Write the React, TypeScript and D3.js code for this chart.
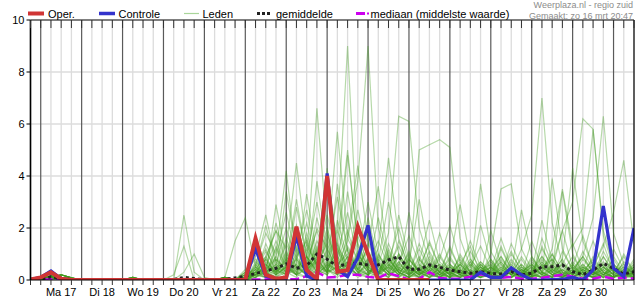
import React from "react";
import * as d3 from "d3";

const START = new Date(2025, 2, 16, 18);
const END = new Date(2025, 2, 31, 12);
const DAY_LABELS = ["Ma 17", "Di 18", "Wo 19", "Do 20", "Vr 21", "Za 22", "Zo 23", "Ma 24", "Di 25", "Wo 26", "Do 27", "Vr 28", "Za 29", "Zo 30"];
const Y_TICKS = [0, 2, 4, 6, 8, 10];
const GRID_Y = [2, 4, 6, 8];

// 6-hourly values starting at zo 16 mrt 18:00
const OPER = [0.02, 0.1, 0.3, 0.05, 0, 0, 0, 0, 0, 0, 0, 0, 0, 0, 0, 0, 0, 0, 0, 0, 0, 0,
  1.6, 0.2, 0.05, 0.1, 2.05, 0.38, 0.05, 4.0, 0.32, 0.38, 2.05, 1.0, 0, 0, 0, 0, 0, 0];
const CONTROLE = [0.02, 0.1, 0.35, 0.05, 0, 0, 0, 0, 0, 0, 0, 0, 0, 0, 0, 0, 0, 0, 0, 0, 0, 0,
  1.2, 0.15, 0.05, 0.05, 1.7, 0.15, 0, 4.1, 0.4, 0.13, 0.85, 2.1,
  0, 0, 0, 0, 0, 0, 0, 0, 0, 0,
  0.3, 0.1, 0.1, 0.47, 0.2, 0, 0, 0.02, 0.03, 0.1, 0, 0.38, 2.85, 0.45, 0.13, 2.0];
const GEMIDDELDE = [0, 0.03, 0.12, 0.06, 0.02, 0.01, 0.01, 0.01, 0.01, 0.01, 0.01, 0.01, 0.01, 0.01,
  0.02, 0.1, 0.06, 0.01, 0.01, 0.03, 0.08,
  0.15, 0.25, 0.35, 0.45, 0.62, 0.45, 0.55, 1.0, 0.8, 0.52, 0.62, 0.64, 0.58, 0.58, 0.77, 0.9, 0.41, 0.41, 0.58,
  0.49, 0.38, 0.32, 0.26, 0.32, 0.26, 0.23, 0.32, 0.2, 0.26, 0.51, 0.51, 0.58, 0.32, 0.2, 0.38, 0.64, 0.45, 0.23, 0.32];
const MEDIAAN = [0, 0.01, 0.03, 0.01, 0, 0, 0, 0, 0, 0, 0, 0, 0, 0, 0, 0, 0, 0, 0, 0, 0, 0,
  0.02, 0.02, 0.08, 0.03, 0.03, 0.15, 0.3, 0.1, 0.12, 0.2,
  0.2, 0.12, 0.08, 0.26, 0.15, 0.02, 0.05, 0.3, 0.08, 0.05,
  0.05, 0.13, 0.22, 0.13, 0.08, 0.12, 0.05, 0.05, 0.08, 0.15,
  0.2, 0.13, 0.05, 0.05, 0.13, 0.05, 0.1, 0.05];

const EARLY_A = [0, 0.05, 0.15, 0.1, 0.02, 0, 0, 0, 0, 0, 0, 0, 0, 0, 0, 0, 0, 0, 0, 0, 0];
const EARLY_B = [0, 0.02, 0.1, 0.2, 0.08, 0, 0, 0, 0, 0, 0, 0, 0, 0, 0, 0, 0, 0, 0, 0, 0];
const EARLY_C = [0, 0, 0.05, 0.05, 0, 0, 0, 0, 0, 0, 0.1, 0, 0, 0, 0, 0, 0, 0, 0, 0.1, 0];
const EARLY_7 = [0, 0, 0.1, 0.05, 0, 0, 0, 0, 0, 0, 0, 0, 0, 0, 0, 2.5, 0.3, 0, 0, 0, 0];
const EARLY_8 = [0, 0, 0.15, 0.1, 0, 0, 0, 0, 0, 0, 0, 0, 0, 0, 0.2, 1.3, 0, 0, 0, 0, 0];
const EARLY_9 = [0, 0, 0.1, 0.1, 0, 0, 0, 0, 0, 0, 0, 0.05, 0, 0, 0, 0.3, 1.0, 0.1, 0, 0, 0];
const EARLY_10 = [0, 0.05, 0.2, 0.1, 0, 0, 0, 0, 0, 0, 0, 0, 0, 0, 0, 0, 0, 0, 0, 0.1, 1.5];

const LEDEN: number[][] = [
  [...EARLY_A, 0, 0.3, 0.8, 0.2, 1.0, 0.5, 0.3, 1.5, 0.8, 2.0, 9.0, 1.2, 0.5, 0.3, 1.0, 0.4, 0.2, 0.8, 0.3, 0.1, 0.5, 0.2, 0, 0.3, 0.8, 0.2, 0.1, 0.4, 0.2, 1.2, 0.5, 0.1, 0.3, 0.6, 0.2, 0.4, 0.1, 0.3, 0.2],
  [...EARLY_B, 0.1, 0.5, 0.2, 1.2, 0.4, 0.8, 2.2, 0.6, 1.4, 0.5, 1.5, 3.8, 9.0, 2.0, 0.6, 0.3, 1.1, 0.2, 0.5, 0.1, 0.2, 0.9, 0.3, 0.1, 0.4, 1.6, 0.5, 0.2, 0.1, 0.6, 0.3, 0.8, 0.2, 0.1, 0.5, 1.4, 0.3, 0.2, 0.6],
  [...EARLY_C, 0, 0.2, 1.4, 0.5, 0.3, 2.1, 0.8, 6.6, 1.8, 0.6, 1.0, 0.4, 2.4, 0.7, 0.3, 1.5, 0.5, 0.2, 1.1, 0.4, 0.1, 0.6, 1.3, 0.2, 0.5, 0.1, 0.3, 0.8, 0.2, 0.1, 0.4, 1.9, 0.5, 0.2, 0.1, 0.7, 0.3, 0.1, 0.4],
  [...EARLY_A, 0.2, 1.1, 0.4, 0.9, 0.3, 1.6, 0.5, 2.0, 1.2, 5.7, 1.6, 0.8, 3.0, 1.0, 0.4, 0.9, 0.2, 0.5, 0.1, 0.3, 0.9, 0.3, 0.1, 0.6, 0.2, 0.4, 1.1, 0.3, 0.1, 0.5, 0.2, 0.6, 1.4, 0.4, 0.2, 0.9, 0.3, 0.5, 0.2],
  [...EARLY_B, 0, 0.6, 1.8, 1.0, 4.2, 0.9, 0.3, 1.2, 0.6, 1.9, 0.7, 0.4, 1.3, 3.6, 0.8, 0.3, 0.6, 0.2, 0.4, 1.0, 0.3, 0.1, 0.2, 0.7, 0.3, 0.1, 0.5, 0.2, 0.8, 0.3, 0.1, 0.4, 0.2, 1.1, 0.4, 0.2, 0.6, 0.3, 0.1],
  [...EARLY_C, 0.3, 0.2, 0.9, 1.9, 1.2, 4.5, 1.3, 0.6, 2.5, 0.9, 4.8, 1.4, 0.5, 1.2, 4.7, 1.6, 0.5, 0.2, 0.8, 0.3, 0.1, 0.4, 1.5, 0.5, 0.2, 0.7, 0.2, 0.1, 0.3, 0.9, 0.4, 0.2, 0.6, 0.2, 0.1, 0.3, 0.8, 0.2, 0.4],
  [...EARLY_7, 0, 0.4, 0.2, 0.6, 2.0, 0.7, 0.3, 1.1, 0.5, 0.9, 2.6, 0.8, 0.3, 0.6, 1.8, 6.3, 6.1, 2.0, 0.7, 0.3, 1.2, 0.4, 0.1, 0.5, 0.2, 0.8, 0.3, 0.1, 0.6, 0.2, 1.0, 0.3, 0.1, 0.4, 0.2, 0.5, 0.1, 0.3, 0.2],
  [...EARLY_8, 0.1, 0.3, 0.1, 0.8, 0.4, 1.5, 0.5, 0.9, 4.3, 1.3, 0.6, 2.2, 0.8, 0.3, 0.5, 1.3, 0.4, 5.0, 5.2, 5.4, 5.1, 1.6, 0.5, 0.2, 0.6, 0.2, 0.1, 0.4, 0.2, 0.7, 0.3, 0.1, 0.2, 0.8, 0.3, 0.1, 0.3, 0.6, 0.2],
  [...EARLY_9, 0, 0.2, 0.5, 0.3, 1.1, 0.4, 0.9, 3.0, 1.0, 0.4, 1.7, 4.4, 1.5, 0.6, 0.2, 0.9, 0.3, 1.4, 0.5, 0.2, 0.7, 2.9, 0.8, 0.3, 0.1, 0.5, 0.2, 0.6, 0.2, 0.1, 0.4, 3.4, 1.0, 0.3, 0.1, 0.5, 0.2, 0.1, 0.3],
  [...EARLY_10, 2.4, 0.5, 1.2, 0.3, 0.8, 0.2, 1.4, 0.5, 0.9, 3.2, 1.1, 0.4, 0.2, 0.7, 0.3, 1.0, 0.4, 0.1, 0.6, 0.3, 1.3, 0.4, 0.2, 3.7, 1.1, 0.4, 0.2, 0.5, 0.1, 0.3, 0.8, 0.2, 0.1, 0.4, 1.5, 0.5, 0.2, 0.1, 0.3],
  [...EARLY_A, 0.2, 0.9, 2.5, 0.7, 0.3, 1.2, 0.4, 0.8, 0.3, 1.5, 5.0, 1.3, 0.5, 0.2, 0.9, 0.3, 0.1, 0.7, 2.3, 0.7, 0.3, 0.1, 0.4, 0.2, 1.0, 3.5, 3.7, 1.2, 0.4, 0.2, 0.5, 0.2, 0.1, 0.3, 0.6, 0.2, 0.1, 0.4, 0.1],
  [...EARLY_B, 0, 0.3, 0.8, 1.9, 0.6, 0.2, 0.9, 0.4, 1.6, 0.5, 0.2, 1.0, 0.4, 0.1, 0.6, 0.2, 0.8, 0.3, 0.1, 0.5, 0.2, 0.6, 0.2, 0.1, 0.4, 0.9, 0.3, 1.2, 2.5, 7.0, 2.2, 0.6, 0.3, 0.9, 0.3, 0.1, 0.5, 0.2, 0.1],
  [...EARLY_C, 0.1, 0.5, 0.2, 1.3, 0.5, 0.2, 1.8, 0.6, 0.3, 1.2, 0.5, 0.2, 0.7, 1.5, 0.5, 0.2, 0.4, 0.1, 0.3, 0.9, 0.3, 0.1, 0.6, 0.2, 0.5, 0.2, 0.8, 0.3, 0.1, 1.6, 0.6, 1.9, 3.0, 6.2, 5.8, 1.7, 0.5, 0.2, 0.6],
  [...EARLY_A, 0, 0.1, 0.4, 0.2, 0.9, 0.3, 0.1, 0.6, 2.0, 0.7, 0.3, 1.1, 0.4, 0.2, 1.4, 0.5, 0.2, 0.6, 0.2, 0.1, 0.4, 0.2, 1.1, 0.4, 0.1, 0.3, 0.6, 0.2, 0.5, 0.2, 3.9, 1.2, 0.4, 0.9, 2.4, 6.3, 1.8, 0.6, 0.2],
  [...EARLY_B, 0, 0.6, 0.2, 0.4, 0.1, 0.8, 0.3, 2.4, 0.8, 0.3, 0.6, 0.2, 1.8, 0.6, 0.2, 0.4, 1.0, 0.3, 0.1, 0.5, 0.2, 0.7, 0.3, 0.1, 0.2, 0.6, 0.2, 0.1, 0.4, 0.9, 0.3, 0.8, 4.3, 1.5, 0.5, 1.3, 2.6, 4.6, 1.4],
  [...EARLY_C, 0.3, 0.1, 0.7, 0.3, 1.4, 0.5, 0.2, 0.9, 0.3, 0.7, 1.9, 0.6, 0.2, 0.9, 0.4, 2.5, 0.8, 0.3, 0.7, 0.2, 0.1, 0.3, 0.8, 0.3, 0.1, 0.2, 0.5, 0.2, 0.9, 0.3, 1.2, 3.5, 1.3, 2.0, 5.8, 1.9, 0.6, 0.2, 0.5],
  [...EARLY_A, 0.1, 0.4, 1.1, 0.4, 0.2, 0.6, 3.3, 1.0, 0.4, 0.8, 0.3, 0.6, 2.0, 0.7, 3.0, 1.0, 0.3, 0.1, 0.4, 1.8, 0.6, 0.2, 0.1, 0.4, 0.2, 0.1, 0.3, 2.7, 0.9, 0.3, 0.1, 0.5, 0.2, 0.6, 0.2, 0.9, 0.3, 0.1, 0.2],
  [...EARLY_B, 0, 0.2, 0.5, 1.5, 0.5, 2.8, 0.9, 0.3, 0.7, 0.2, 1.3, 0.5, 0.2, 0.4, 0.1, 0.6, 1.7, 0.6, 0.2, 0.1, 0.6, 0.3, 0.1, 0.2, 0.7, 0.3, 1.0, 0.4, 0.1, 0.2, 0.6, 0.2, 0.7, 0.3, 0.1, 0.4, 1.2, 0.4, 0.2],
  [...EARLY_C, 0.2, 1.6, 0.6, 0.2, 0.5, 0.2, 0.7, 1.9, 0.7, 0.3, 0.9, 0.3, 0.6, 0.2, 1.2, 0.4, 0.2, 0.9, 0.3, 0.6, 0.2, 0.1, 0.5, 1.3, 0.4, 0.2, 0.1, 0.3, 0.6, 0.2, 0.1, 1.1, 0.4, 0.2, 0.6, 0.2, 0.1, 0.7, 0.3],
  [...EARLY_A, 0, 0.1, 0.3, 0.6, 0.2, 0.9, 1.5, 0.5, 4.0, 1.2, 0.4, 0.2, 0.8, 0.3, 0.1, 0.7, 0.2, 0.5, 1.4, 0.5, 0.2, 0.1, 0.3, 0.7, 0.3, 0.1, 0.4, 0.2, 1.5, 0.5, 0.2, 0.1, 0.6, 0.2, 0.4, 0.1, 0.3, 0.9, 0.3],
  [...EARLY_B, 0.1, 0.3, 0.2, 0.9, 2.6, 0.8, 0.3, 0.1, 1.2, 0.4, 0.7, 2.7, 0.9, 0.3, 0.1, 0.5, 0.2, 0.1, 0.3, 0.8, 2.1, 0.7, 0.2, 0.1, 0.3, 0.9, 0.3, 0.1, 0.2, 0.6, 0.2, 0.4, 0.1, 0.3, 0.8, 0.3, 0.1, 0.2, 0.5],
  [...EARLY_C, 0, 0.7, 0.3, 0.1, 0.6, 1.3, 0.4, 3.8, 1.2, 0.4, 0.2, 0.6, 1.1, 0.4, 0.8, 0.3, 0.1, 0.3, 0.9, 0.3, 0.1, 0.5, 0.2, 0.6, 0.2, 0.1, 0.7, 0.3, 0.1, 0.4, 1.0, 0.3, 0.1, 0.5, 0.2, 0.6, 0.2, 0.1, 0.1],
  [...EARLY_A, 0.2, 0.1, 0.6, 0.2, 0.8, 0.3, 1.2, 0.4, 0.2, 2.3, 0.8, 0.3, 0.1, 1.0, 0.3, 0.1, 0.5, 0.2, 0.6, 0.2, 0.1, 1.0, 0.3, 0.2, 0.8, 0.3, 0.1, 0.2, 0.7, 0.3, 0.1, 0.3, 0.9, 0.3, 0.1, 0.2, 0.5, 0.2, 0.8],
  [...EARLY_B, 0, 0.2, 0.1, 0.4, 0.2, 0.5, 0.2, 0.8, 0.3, 0.5, 3.4, 1.0, 0.4, 0.2, 0.6, 0.2, 0.9, 0.3, 0.1, 0.2, 0.5, 0.2, 0.7, 0.2, 0.1, 0.4, 0.2, 0.6, 0.2, 0.1, 0.3, 0.1, 0.4, 0.2, 0.9, 0.3, 0.1, 0.3, 0.2],
  [...EARLY_C, 0, 0.1, 0.3, 0.1, 0.4, 0.2, 0.5, 0.2, 0.6, 0.2, 0.4, 0.1, 0.3, 0.5, 0.2, 0.1, 0.3, 0.1, 0.2, 0.4, 0.1, 0.2, 0.1, 0.3, 0.1, 0.2, 0.1, 0.4, 0.1, 0.3, 0.1, 0.2, 0.1, 0.3, 0.1, 0.2, 0.4, 0.1, 0.2],
  [...EARLY_A, 0.1, 0.2, 0.1, 0.3, 0.7, 0.2, 0.1, 0.4, 0.2, 0.6, 0.2, 0.8, 0.3, 0.1, 0.2, 0.4, 0.1, 0.2, 0.5, 0.2, 0.3, 0.1, 0.2, 0.5, 0.2, 0.1, 0.3, 0.1, 0.2, 0.5, 0.2, 0.1, 0.3, 0.1, 0.2, 0.5, 0.2, 0.1, 0.3],
  [...EARLY_B, 0, 0.4, 0.2, 0.1, 0.3, 0.1, 0.6, 0.2, 0.4, 0.1, 0.5, 0.2, 0.1, 0.3, 0.7, 0.2, 0.1, 0.4, 0.1, 0.3, 0.1, 0.2, 0.4, 0.1, 0.2, 0.1, 0.4, 0.2, 0.3, 0.1, 0.2, 0.1, 0.5, 0.2, 0.1, 0.3, 0.1, 0.2, 0.1],
  [...EARLY_C, 0.3, 0.8, 0.3, 0.5, 0.2, 0.4, 0.9, 0.3, 0.5, 1.1, 0.4, 0.9, 0.3, 0.6, 0.2, 1.0, 0.4, 0.2, 0.6, 0.3, 0.8, 0.3, 0.1, 0.4, 0.6, 0.2, 0.1, 0.5, 0.3, 0.8, 0.3, 0.6, 0.2, 0.4, 0.7, 0.3, 0.1, 0.5, 0.3],
  [...EARLY_A, 0, 0.2, 0.8, 0.3, 1.6, 0.5, 0.2, 0.7, 0.3, 1.4, 0.5, 0.2, 1.4, 0.5, 0.2, 0.6, 0.3, 1.2, 0.4, 0.2, 0.5, 0.2, 0.6, 0.2, 1.9, 0.6, 0.2, 0.3, 0.1, 1.3, 0.4, 0.2, 0.5, 1.7, 0.5, 0.2, 0.4, 0.2, 0.7],
  [...EARLY_B, 0.1, 0.3, 0.1, 0.2, 0.5, 0.2, 0.4, 1.3, 0.4, 0.2, 0.6, 0.2, 0.4, 2.4, 0.8, 0.3, 0.1, 0.4, 0.2, 0.1, 0.3, 0.6, 0.2, 0.1, 0.2, 0.5, 0.2, 0.9, 0.3, 0.1, 0.2, 0.4, 0.1, 0.2, 0.3, 0.1, 0.9, 0.3, 0.1],
  [...EARLY_A, 0.1, 1.3, 0.4, 2.2, 0.7, 3.1, 0.9, 0.3, 1.8, 0.6, 0.2, 1.0, 0.4, 0.2, 0.7, 2.0, 0.6, 0.2, 0.4, 0.1, 0.3, 0.8, 0.3, 0.1, 0.5, 0.2, 1.4, 0.5, 0.2, 0.1, 0.6, 0.2, 0.4, 0.1, 0.3, 0.2, 0.6, 0.2, 0.1],
  [...EARLY_B, 0, 0.5, 2.1, 0.6, 0.3, 1.0, 2.7, 0.8, 0.3, 0.5, 1.2, 0.4, 0.8, 0.3, 1.1, 0.4, 2.6, 0.8, 0.3, 0.1, 0.4, 0.2, 0.7, 0.2, 0.1, 1.2, 0.4, 0.2, 0.5, 0.2, 0.1, 0.7, 0.2, 0.4, 0.1, 0.2, 0.5, 0.2, 0.3],
  [...EARLY_C, 0.4, 0.2, 0.6, 0.3, 3.4, 1.1, 0.4, 0.7, 0.2, 0.9, 0.4, 1.7, 0.6, 0.2, 0.5, 0.2, 0.8, 0.3, 1.5, 0.5, 0.2, 0.6, 0.2, 2.1, 0.7, 0.2, 0.4, 0.1, 0.3, 0.7, 0.2, 0.1, 0.4, 0.9, 0.3, 0.1, 0.2, 1.0, 0.3],
  [...EARLY_A, 0, 0.2, 0.4, 0.8, 0.3, 0.6, 0.2, 1.1, 0.4, 0.2, 0.7, 0.3, 0.5, 0.2, 0.9, 0.3, 0.1, 0.4, 0.2, 0.6, 0.2, 0.4, 0.1, 0.3, 0.5, 0.2, 0.1, 0.3, 0.6, 0.2, 0.4, 0.1, 0.3, 0.5, 0.2, 0.4, 0.1, 0.3, 0.2],
  [...EARLY_B, 0.2, 0.4, 0.9, 0.2, 0.5, 0.3, 0.8, 0.2, 0.6, 0.4, 0.9, 0.3, 0.2, 0.6, 0.3, 0.7, 0.2, 0.5, 0.3, 0.2, 0.5, 0.3, 0.2, 0.6, 0.3, 0.7, 0.2, 0.4, 0.2, 0.5, 0.8, 0.3, 0.2, 0.5, 0.3, 0.6, 0.2, 0.4, 0.3],
  [...EARLY_C, 0, 0.3, 0.2, 2.9, 0.9, 0.4, 1.6, 0.5, 0.3, 3.7, 1.1, 0.4, 0.2, 0.8, 0.3, 0.1, 0.6, 3.1, 1.0, 0.3, 0.6, 0.2, 0.1, 0.5, 0.2, 1.3, 0.4, 0.1, 0.3, 2.3, 0.7, 0.2, 0.1, 0.4, 0.2, 1.1, 0.4, 0.2, 0.5],
];

const X0 = 30.5, X1 = 634, Y0 = 280, Y1 = 20;

export default function App() {
  const x = d3.scaleTime().domain([START, END]).range([X0, X1]);
  const y = d3.scaleLinear().domain([0, 10]).range([Y0, Y1]);
  const tAt = (k: number) => d3.timeHour.offset(START, 6 * k);
  const line = d3.line<number>().x((_, i) => x(tAt(i))).y((d) => y(d));
  const sixH = d3.timeHour.every(6)!.range(START, d3.timeHour.offset(END, 1));
  const midnights = d3.timeDay.range(d3.timeHour.offset(START, 1), END);
  const noons = midnights.map((d) => d3.timeHour.offset(d, 12)).slice(0, DAY_LABELS.length);
  const font = "Arial, 'Liberation Sans', Helvetica, sans-serif";

  return (
    <svg width={635} height={300} style={{ position: "absolute", left: 0, top: 0, background: "#fff" }} fontFamily={font}>
      <defs>
        <clipPath id="plot">
          <rect x={X0} y={Y1} width={X1 - X0} height={Y0 - Y1} />
        </clipPath>
      </defs>
      <rect x={0} y={0} width={635} height={300} fill="#fff" />
      {sixH.filter((d) => d.getHours() !== 0).map((d, i) => (
        <line key={"g" + i} x1={x(d)} x2={x(d)} y1={Y1} y2={Y0} stroke="#dcdcdc" strokeWidth={1.3} />
      ))}
      {GRID_Y.map((v) => (
        <line key={"gy" + v} x1={X0} x2={X1} y1={y(v)} y2={y(v)} stroke="#dcdcdc" strokeWidth={1.3} />
      ))}
      {midnights.map((d, i) => (
        <line key={"m" + i} x1={x(d)} x2={x(d)} y1={Y1} y2={Y0} stroke="#5a5a5a" strokeWidth={1.2} />
      ))}
      <g clipPath="url(#plot)">
        {LEDEN.map((m, i) => (
          <path key={"l" + i} d={line(m) || ""} fill="none" stroke="#3f9c1c" strokeOpacity={0.38} strokeWidth={1.2} />
        ))}
        <path d={line(MEDIAAN) || ""} fill="none" stroke="#cc00ee" strokeWidth={2.5} strokeDasharray="9 4" />
        <path d={line(GEMIDDELDE) || ""} fill="none" stroke="#222" strokeWidth={3} strokeDasharray="3 3" />
        <path d={line(CONTROLE) || ""} fill="none" stroke="#3333cc" strokeWidth={3.2} strokeLinejoin="miter" />
        <path d={line(OPER) || ""} fill="none" stroke="#d03535" strokeWidth={4} strokeLinejoin="miter" />
      </g>
      <line x1={X0} x2={X1} y1={Y1} y2={Y1} stroke="#000" strokeWidth={1.2} />
      <line x1={X0} x2={X1} y1={Y0} y2={Y0} stroke="#000" strokeWidth={1.2} />
      <line x1={X0} x2={X0} y1={Y1} y2={Y0} stroke="#000" strokeWidth={1.6} />
      <line x1={X1} x2={X1} y1={Y1} y2={Y0} stroke="#000" strokeWidth={1.2} />
      {sixH.map((d, i) => (
        <g key={"t" + i}>
          <line x1={x(d)} x2={x(d)} y1={Y1} y2={Y1 + 8} stroke="#333" strokeWidth={1} />
          <line x1={x(d)} x2={x(d)} y1={Y0} y2={Y0 + 5} stroke="#333" strokeWidth={1} />
        </g>
      ))}
      {Y_TICKS.map((v) => (
        <g key={"y" + v}>
          <line x1={X0 - 4} x2={X0} y1={y(v)} y2={y(v)} stroke="#000" strokeWidth={1} />
          <text x={X0 - 6} y={y(v)} dy="0.35em" textAnchor="end" fontSize={11} fill="#000">{v}</text>
        </g>
      ))}
      {noons.map((d, i) => (
        <text key={"d" + i} x={x(d)} y={296} textAnchor="middle" fontSize={11} fill="#000">{DAY_LABELS[i]}</text>
      ))}
      <line x1={28} x2={44} y1={13.5} y2={13.5} stroke="#d03535" strokeWidth={4} />
      <text x={48} y={17.5} fontSize={11}>Oper.</text>
      <line x1={99} x2={115} y1={13.5} y2={13.5} stroke="#3333cc" strokeWidth={3.5} />
      <text x={118.5} y={17.5} fontSize={11}>Controle</text>
      <line x1={184} x2={199} y1={13.5} y2={13.5} stroke="#a9d69a" strokeWidth={1.2} />
      <text x={202.5} y={17.5} fontSize={11}>Leden</text>
      <line x1={257} x2={272} y1={13.5} y2={13.5} stroke="#222" strokeWidth={3} strokeDasharray="3 2" />
      <text x={276} y={17.5} fontSize={11}>gemiddelde</text>
      <line x1={356} x2={365} y1={13.5} y2={13.5} stroke="#cc00ee" strokeWidth={3} />
      <line x1={367} x2={369} y1={13.5} y2={13.5} stroke="#cc00ee" strokeWidth={2} />
      <text x={370.5} y={17.5} fontSize={11}>mediaan (middelste waarde)</text>
      <text x={633} y={7.5} textAnchor="end" fontSize={9} fill="#8c8c8c">Weerplaza.nl - regio zuid</text>
      <text x={633} y={19} textAnchor="end" fontSize={9} fill="#8c8c8c">Gemaakt: zo 16 mrt 20:47</text>
    </svg>
  );
}
